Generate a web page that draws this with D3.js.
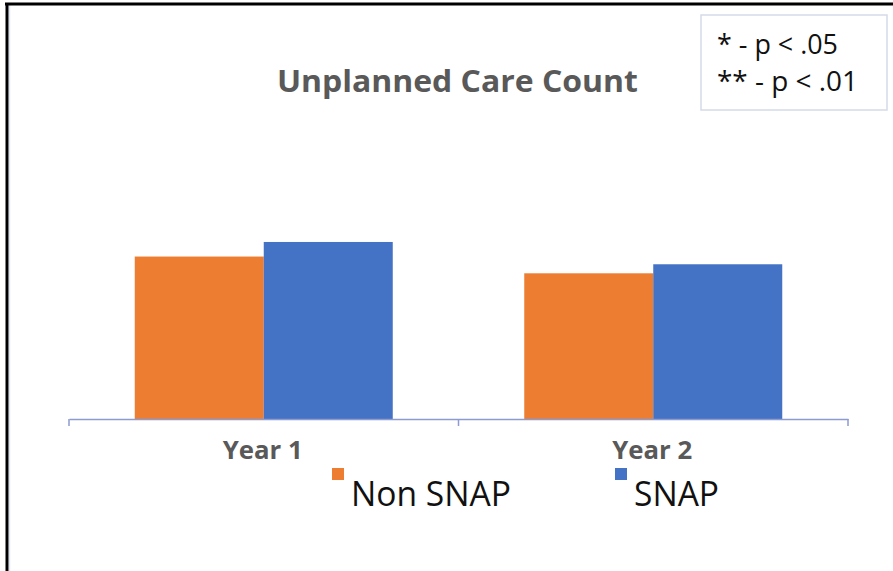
<!DOCTYPE html>
<html><head><meta charset="utf-8">
<script src="https://cdn.jsdelivr.net/npm/d3@7"></script>
<style>html,body{margin:0;padding:0;background:#fff;}svg{display:block;}</style>
</head><body>
<svg id="c" width="893" height="571"></svg>
<script>
const categories = ["Year 1", "Year 2"];
const seriesNames = ["Non SNAP", "SNAP"];
const nonSnap = [1.115, 1.0];
const snap = [1.215, 1.062];
const noteLines = ["* - p < .05", "** - p < .01"];
const chartTitle = "Unplanned Care Count";
const colors = ["#ED7D31", "#4472C4"];

const svg = d3.select("#c");
const font = "'Open Sans', 'Noto Sans', sans-serif";

// frame lines
svg.append("rect").attr("x", 0).attr("y", 0).attr("width", 893).attr("height", 571).attr("fill", "#fff");
svg.append("line").attr("x1", 9.5).attr("x2", 9.5).attr("y1", 5).attr("y2", 571).attr("stroke", "#dfe6f3").attr("stroke-width", 1.5);
svg.append("line").attr("x1", 5).attr("x2", 893).attr("y1", 4).attr("y2", 4).attr("stroke", "#000").attr("stroke-width", 3);
svg.append("line").attr("x1", 7).attr("x2", 7).attr("y1", 3).attr("y2", 571).attr("stroke", "#000").attr("stroke-width", 3);

const baseY = 419;
const y = d3.scaleLinear().domain([0, 2]).range([baseY, baseY - 291.4]);
const x0 = d3.scaleBand().domain(categories).range([69, 848]).padding(0);
const gap = x0.bandwidth() - 258;
const x1 = d3.scaleBand().domain(seriesNames).range([gap / 2, x0.bandwidth() - gap / 2]).padding(0);

const data = categories.map((c, i) => ({cat: c, vals: [nonSnap[i], snap[i]]}));

const g = svg.append("g");
const groups = g.selectAll("g.grp").data(data).join("g")
  .attr("transform", d => `translate(${x0(d.cat)},0)`);
groups.selectAll("rect").data(d => d.vals.map((v, j) => ({name: seriesNames[j], v, j})))
  .join("rect")
  .attr("x", d => x1(d.name))
  .attr("width", x1.bandwidth())
  .attr("y", d => y(d.v))
  .attr("height", d => baseY - y(d.v))
  .attr("fill", d => colors[d.j]);

// axis
const axis = d3.axisBottom(x0).tickSize(0).tickFormat("");
const ax = svg.append("g").attr("transform", `translate(0,${baseY})`).call(axis);
ax.select(".domain").attr("stroke", "#8c9bd0").attr("stroke-width", 1.5);
const tickXs = [69, 69 + x0.bandwidth(), 848];
svg.selectAll("line.tk").data(tickXs).join("line").attr("class", "tk")
  .attr("x1", d => d).attr("x2", d => d).attr("y1", baseY).attr("y2", baseY + 7)
  .attr("stroke", "#8c9bd0").attr("stroke-width", 1.5);

function fitText(sel, w) {
  sel.attr("textLength", w).attr("lengthAdjust", "spacingAndGlyphs");
}

// category labels
svg.selectAll("text.cat").data(categories).join("text").attr("class", "cat")
  .attr("x", d => x0(d) + x0.bandwidth() / 2 - 1)
  .attr("y", 459)
  .attr("text-anchor", "middle")
  .attr("font-family", font).attr("font-weight", "bold").attr("font-size", 24.5)
  .attr("fill", "#595959")
  .text(d => d)
  .each(function() { fitText(d3.select(this), 80); });

// title
svg.append("text").attr("x", 457.4).attr("y", 92).attr("text-anchor", "middle")
  .attr("font-family", font).attr("font-weight", "bold").attr("font-size", 31)
  .attr("fill", "#595959").text(chartTitle).call(fitText, 361);

// legend
const legX = [332, 615];
const legW = [160, 85];
seriesNames.forEach((n, i) => {
  svg.append("rect").attr("x", legX[i]).attr("y", 468).attr("width", 12).attr("height", 12).attr("fill", colors[i]);
  svg.append("text").attr("x", legX[i] + 19).attr("y", 506).attr("font-family", font).attr("font-size", 35)
    .attr("fill", "#111").text(n).call(fitText, legW[i]);
});

// significance note box
svg.append("rect").attr("x", 701).attr("y", 15).attr("width", 186).attr("height", 95)
  .attr("fill", "#fff").attr("stroke", "#d3dae8").attr("stroke-width", 1.5);
const noteW = [121, 141];
const noteY = [54, 90.5];
noteLines.forEach((t, i) => {
  svg.append("text").attr("x", 717).attr("y", noteY[i]).attr("font-family", font).attr("font-size", 26.5)
    .attr("fill", "#111").text(t).call(fitText, noteW[i]);
});
</script>
</body></html>
